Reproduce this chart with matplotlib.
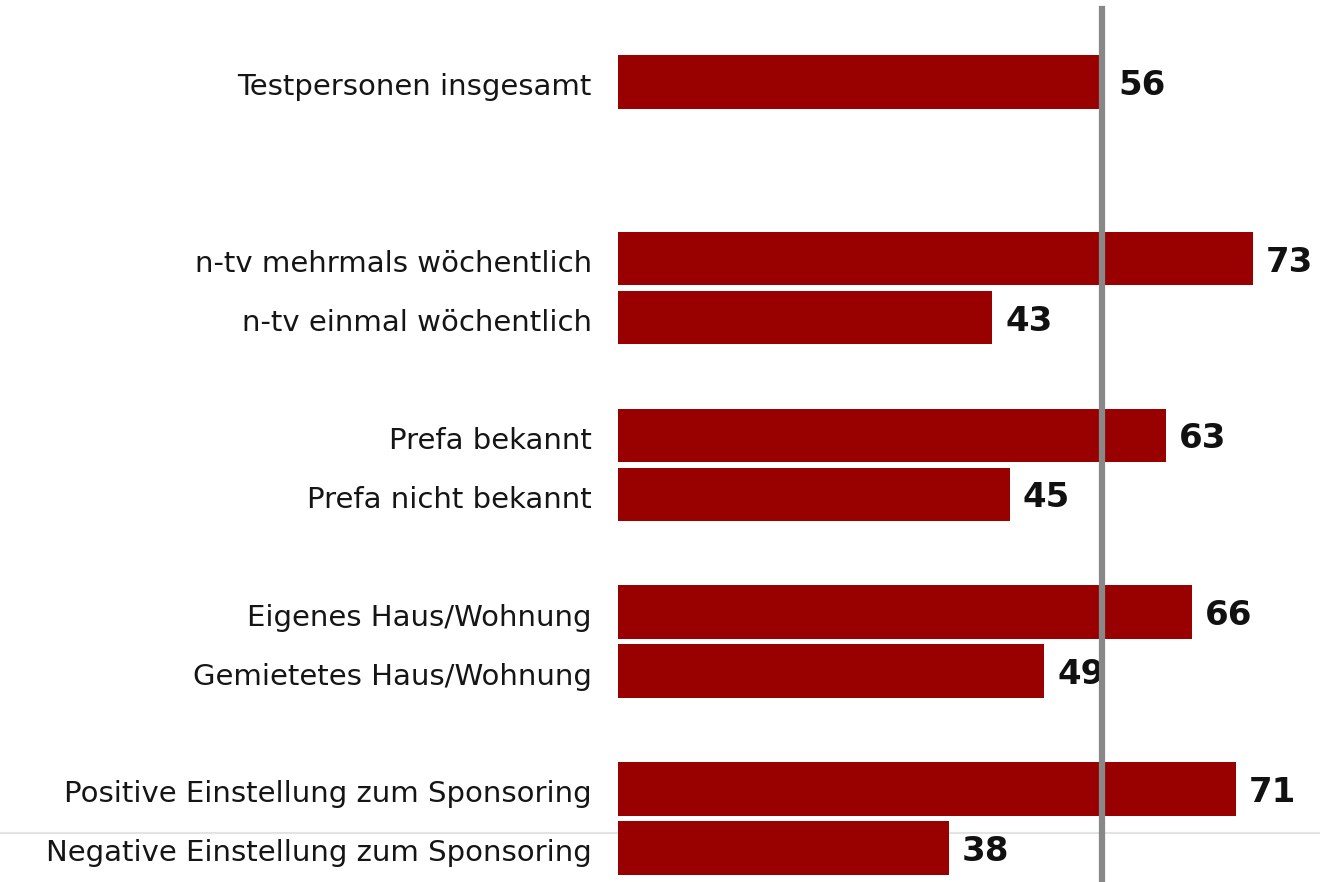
import numpy as np
import matplotlib.pyplot as plt
from matplotlib.lines import Line2D

plt.rcParams["font.family"] = ["DejaVu Sans"]

labels = [
    "Testpersonen insgesamt",
    "n-tv mehrmals wöchentlich",
    "n-tv einmal wöchentlich",
    "Prefa bekannt",
    "Prefa nicht bekannt",
    "Eigenes Haus/Wohnung",
    "Gemietetes Haus/Wohnung",
    "Positive Einstellung zum Sponsoring",
    "Negative Einstellung zum Sponsoring",
]
values = [56, 73, 43, 63, 45, 66, 49, 71, 38]
slots = [0, 3, 4, 6, 7, 9, 10, 12, 13]
reference = 56

bar_color = "#990000"

fig = plt.figure(figsize=(13.2, 8.82), dpi=100)
ax = fig.add_axes([618 / 1320, 0, 1 - 618 / 1320, 1])

# light gray separator line across the whole figure
fig.add_artist(Line2D([0, 1], [1 - 833 / 882, 1 - 833 / 882],
                      color="#e3e3e3", lw=1.5, zorder=0))

ax.barh(slots, values, height=0.91, color=bar_color, zorder=2)

for s, v in zip(slots, values):
    ax.text(v + 1.5, s + 0.22, str(v), va="baseline", ha="left",
            fontsize=24.5, fontweight="bold", color="#111111", zorder=3)

for s, lab in zip(slots, labels):
    ax.text(-3.0, s + 0.23, lab, va="baseline", ha="right",
            fontsize=21, color="#151515", clip_on=False)

ax.axvline(reference - 0.4, ymin=0, ymax=1 - 9 / 882, color="#888888",
           lw=4.5, zorder=4)

ax.set_xlim(0, 702 / 8.7)
ax.set_ylim(13.58, -1.39)
ax.axis("off")

fig.savefig("out.png", dpi=100)
